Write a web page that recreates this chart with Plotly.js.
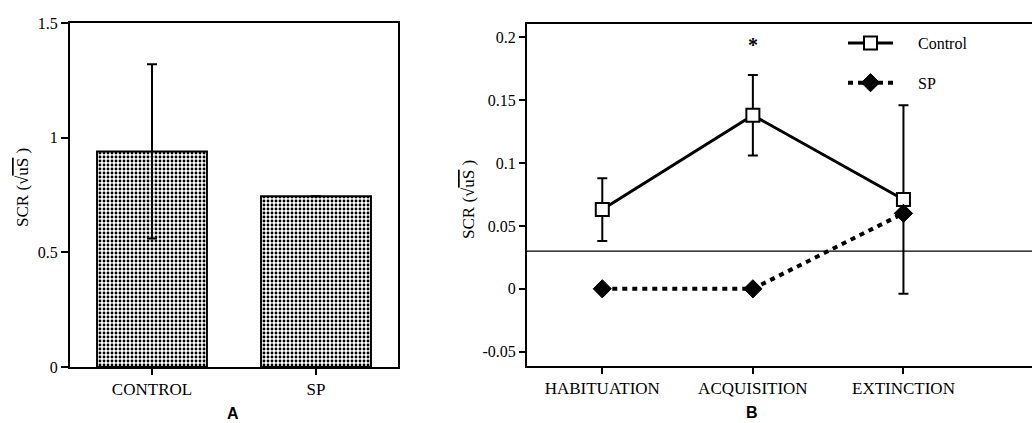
<!DOCTYPE html>
<html>
<head>
<meta charset="utf-8">
<script src="https://cdn.plot.ly/plotly-3.0.1.min.js"></script>
<style>
html,body{margin:0;padding:0;overflow:hidden;background:#fff;}
#chart{width:1060px;height:423px;}
</style>
</head>
<body>
<div id="chart"></div>
<script>
// Panel A data
const barCategories = ['CONTROL', 'SP'];
const barValues = [0.94, 0.745];
const barErrors = [0.38, null];
const barYTicks = [0, 0.5, 1, 1.5];
const barYTickText = ['0', '0.5', '1', '1.5'];

// Panel B data
const phases = ['HABITUATION', 'ACQUISITION', 'EXTINCTION'];
const seriesNames = ['Control', 'SP'];
const controlValues = [0.063, 0.138, 0.071];
const controlErrors = [0.025, 0.032, 0.075];
const spValues = [0, 0, 0.06];
const lineYTicks = [-0.05, 0, 0.05, 0.1, 0.15, 0.2];
const lineYTickText = ['-0.05', '0', '0.05', '0.1', '0.15', '0.2'];
const referenceLevel = 0.03;
const significance = {phase: 'ACQUISITION', y: 0.194, text: '*'};

const W = 1060, H = 423;
const serif = 'Liberation Serif, Times New Roman, serif';
const tickFont = {family: serif, size: 16, color: '#000'};
const catFont = {family: serif, size: 17, color: '#000'};
const titleText = 'SCR (√<span style="text-decoration:overline">uS</span> )';
const legendPad = '\u00a0\u00a0\u00a0\u00a0\u00a0';

const traces = [
  {
    type: 'bar', x: barCategories, y: barValues, xaxis: 'x', yaxis: 'y',
    width: 0.67, showlegend: false,
    marker: {color: '#fff', line: {color: '#000', width: 2},
      pattern: {shape: '.', fgcolor: '#000', bgcolor: '#fff', size: 4, solidity: 0.4}},
    error_y: {type: 'data', array: barErrors, visible: true, color: '#000', thickness: 2, width: 5}
  },
  {
    type: 'scatter', mode: 'lines+markers', name: legendPad + seriesNames[0],
    x: phases, y: controlValues, xaxis: 'x2', yaxis: 'y2',
    line: {color: '#000', width: 3},
    marker: {symbol: 'square', size: 13, color: '#fff', line: {color: '#000', width: 2}},
    error_y: {type: 'data', array: controlErrors, visible: true, color: '#000', thickness: 2, width: 5},
    legendgroup: 'a'
  },
  {
    type: 'scatter', mode: 'lines+markers', name: legendPad + seriesNames[1],
    x: phases, y: spValues, xaxis: 'x2', yaxis: 'y2',
    line: {color: '#000', width: 4, dash: '5px,5px'},
    marker: {symbol: 'diamond', size: 14, color: '#000', line: {color: '#000', width: 1}},
    legendgroup: 'b'
  }
];

const axisCommon = {
  showline: true, linewidth: 2, linecolor: '#000', mirror: true,
  showgrid: false, zeroline: false, ticks: 'outside', tickwidth: 2, tickcolor: '#000',
  fixedrange: true
};

const layout = {
  width: W, height: H,
  margin: {l: 0, r: 0, t: 0, b: 0},
  paper_bgcolor: '#fff', plot_bgcolor: '#fff',
  showlegend: true,
  legend: {x: 843 / W, y: 1 - 26 / H, xanchor: 'left', yanchor: 'top',
    bgcolor: 'rgba(0,0,0,0)', font: {family: serif, size: 16, color: '#000'},
    tracegroupgap: 16, itemwidth: 45},
  xaxis: Object.assign({}, axisCommon, {
    domain: [70 / W, 398 / W], type: 'category', range: [-0.5, 1.5],
    ticklen: 6, tickfont: catFont
  }),
  yaxis: Object.assign({}, axisCommon, {
    domain: [(H - 367) / H, (H - 23) / H], range: [0, 1.5],
    tickvals: barYTicks, ticktext: barYTickText, ticklen: 7, tickfont: tickFont
  }),
  xaxis2: Object.assign({}, axisCommon, {
    domain: [527 / W, 1045 / W], type: 'category', range: [-0.5, 2.94],
    ticklen: 6, tickfont: catFont, anchor: 'y2'
  }),
  yaxis2: Object.assign({}, axisCommon, {
    domain: [(H - 366) / H, (H - 24) / H], range: [-0.0614, 0.2106],
    tickvals: lineYTicks, ticktext: lineYTickText, ticklen: 6, tickfont: tickFont,
    anchor: 'x2'
  }),
  shapes: [
    {type: 'line', xref: 'x2 domain', yref: 'y2', x0: 0, x1: 1,
      y0: referenceLevel, y1: referenceLevel, line: {color: '#000', width: 1.2}}
  ],
  annotations: [
    {xref: 'x2', yref: 'y2', x: significance.phase, y: significance.y, text: '<b>' + significance.text + '</b>',
      showarrow: false, font: {family: serif, size: 20, color: '#000'}},
    {xref: 'paper', yref: 'paper', x: 22 / W, y: 1 - 188 / H, xanchor: 'center', yanchor: 'middle',
      text: titleText, textangle: -90, showarrow: false, font: {family: serif, size: 17, color: '#000'}},
    {xref: 'paper', yref: 'paper', x: 468 / W, y: 1 - 200 / H, xanchor: 'center', yanchor: 'middle',
      text: titleText, textangle: -90, showarrow: false, font: {family: serif, size: 17, color: '#000'}},
    {xref: 'paper', yref: 'paper', x: 233 / W, y: 1 - 413 / H, xanchor: 'center', yanchor: 'middle',
      text: '<b>A</b>', showarrow: false, font: {family: 'Liberation Sans, Arial, sans-serif', size: 16, color: '#000'}},
    {xref: 'paper', yref: 'paper', x: 752 / W, y: 1 - 412 / H, xanchor: 'center', yanchor: 'middle',
      text: '<b>B</b>', showarrow: false, font: {family: 'Liberation Sans, Arial, sans-serif', size: 16, color: '#000'}}
  ]
};

Plotly.newPlot('chart', traces, layout, {displayModeBar: false, staticPlot: true});
</script>
</body>
</html>
